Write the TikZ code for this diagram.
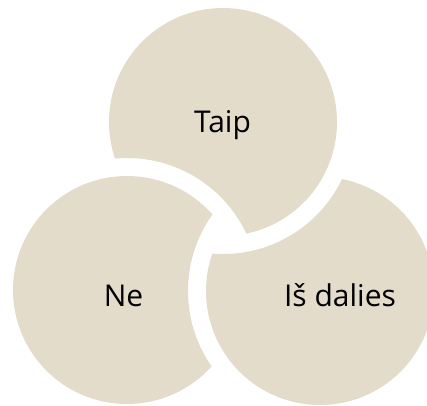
\documentclass[tikz,border=0pt]{standalone}
\usepackage{fontspec}
\setmainfont{Open Sans}
\definecolor{sand}{RGB}{228,220,203}

\begin{document}
\begin{tikzpicture}[
		x=1pt, y=-1pt,
		disc/.style={fill=sand},
		hole/.style={even odd rule},
		txt/.style={anchor=base, font=\fontsize{30}{36}\selectfont},
	]
	\useasboundingbox (0,0) rectangle (427,405);
	\coordinate (ct) at (223,122);
	\coordinate (cl) at (127,290);
	\coordinate (cr) at (320,291);

	% each disc is cut by the white rim of the one lying over it
	\begin{scope}[hole]
		\clip (-20,-20) rectangle (450,430) (cl) circle (132);
		\fill[disc] (ct) circle (114);
	\end{scope}
	\begin{scope}[hole]
		\clip (-20,-20) rectangle (450,430) (cr) circle (132);
		\fill[disc] (cl) circle (114);
	\end{scope}
	\begin{scope}[hole]
		\clip (-20,-20) rectangle (450,430) (ct) circle (132);
		\fill[disc] (cr) circle (114);
	\end{scope}

	\node[txt] (taip) at (222.5,132.3) {Taip};
	\node[txt] (ne) at (123.5,306.5) {Ne};
	\node[txt] (isdalies) at (340,306.5) {Iš dalies};
\end{tikzpicture}
\end{document}
